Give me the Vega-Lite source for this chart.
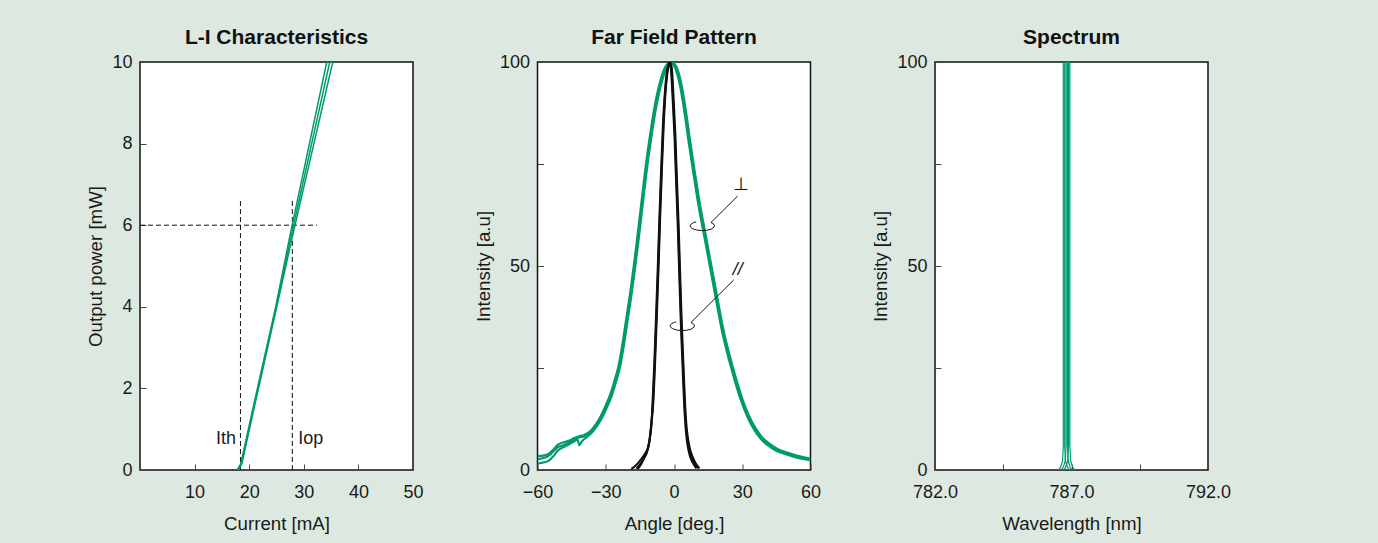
{
  "$schema": "https://vega.github.io/schema/vega-lite/v6.json",
  "background": "#dde9e0",
  "padding": {"left": 86, "top": 26, "right": 150, "bottom": 17},
  "spacing": 124.5,
  "bounds": "flush",
  "config": {
    "font": "Liberation Sans",
    "view": {"fill": "white", "stroke": "#111111", "strokeWidth": 1.5},
    "axis": {"domain": false, "grid": false, "ticks": true, "tickSize": -6, "tickColor": "#444444", "tickWidth": 1, "labelFontSize": 18, "titleFontSize": 18.7, "labelColor": "#1a1a1a", "titleColor": "#1a1a1a", "titleFontWeight": "normal", "labelFlush": false, "labelOverlap": false, "labelPadding": 14, "titlePadding": 6, "labelFont": "Liberation Sans", "titleFont": "Liberation Sans"},
    "axisX": {"labelPadding": 19, "titlePadding": 13},
    "title": {"fontSize": 21, "fontWeight": "bold", "color": "#111111", "offset": 5, "frame": "group", "font": "Liberation Sans"}
  },
  "datasets": {
    "li": [
      {"s": "A", "i": 0, "x": 17.8, "y": 0}, {"s": "A", "i": 1, "x": 18.45, "y": 0.15}, {"s": "A", "i": 2, "x": 20.5, "y": 1.4}, {"s": "A", "i": 3, "x": 24.85, "y": 4.0}, {"s": "A", "i": 4, "x": 27.55, "y": 5.8}, {"s": "A", "i": 5, "x": 34.2, "y": 10.0},
      {"s": "B", "i": 0, "x": 17.9, "y": 0}, {"s": "B", "i": 1, "x": 18.55, "y": 0.15}, {"s": "B", "i": 2, "x": 20.6, "y": 1.4}, {"s": "B", "i": 3, "x": 24.95, "y": 4.0}, {"s": "B", "i": 4, "x": 27.8, "y": 5.8}, {"s": "B", "i": 5, "x": 34.75, "y": 10.0},
      {"s": "C", "i": 0, "x": 18.0, "y": 0}, {"s": "C", "i": 1, "x": 18.65, "y": 0.15}, {"s": "C", "i": 2, "x": 20.7, "y": 1.4}, {"s": "C", "i": 3, "x": 25.05, "y": 4.0}, {"s": "C", "i": 4, "x": 28.05, "y": 5.8}, {"s": "C", "i": 5, "x": 35.3, "y": 10.0}
    ],
    "liV": [{"x": 18.4, "y": 0, "y2": 6.65}, {"x": 27.9, "y": 0, "y2": 6.65}],
    "liH": [{"x": 0, "x2": 32.4, "y": 6}],
    "liTL": [{"x": 17.6, "y": 0.75, "t": "Ith"}],
    "liTR": [{"x": 29.0, "y": 0.75, "t": "Iop"}],
    "ffg": [
      {"s": "G1", "i": 0, "x": -60, "y": 2.6}, {"s": "G1", "i": 1, "x": -57, "y": 3.0}, {"s": "G1", "i": 2, "x": -55, "y": 3.5}, {"s": "G1", "i": 3, "x": -53, "y": 4.6}, {"s": "G1", "i": 4, "x": -51, "y": 5.6}, {"s": "G1", "i": 5, "x": -49, "y": 6.0}, {"s": "G1", "i": 6, "x": -46.5, "y": 6.6}, {"s": "G1", "i": 7, "x": -44, "y": 7.5}, {"s": "G1", "i": 8, "x": -42, "y": 7.9}, {"s": "G1", "i": 9, "x": -39.4, "y": 8.3}, {"s": "G1", "i": 10, "x": -37.5, "y": 8.8},
      {"s": "G1", "i": 11, "x": -35.7, "y": 9.8}, {"s": "G1", "i": 12, "x": -32.1, "y": 12.8}, {"s": "G1", "i": 13, "x": -29.8, "y": 15.5}, {"s": "G1", "i": 14, "x": -27.6, "y": 18.5}, {"s": "G1", "i": 15, "x": -25.8, "y": 21.8}, {"s": "G1", "i": 16, "x": -24, "y": 25.5}, {"s": "G1", "i": 17, "x": -22.5, "y": 30.2}, {"s": "G1", "i": 18, "x": -21, "y": 35.7}, {"s": "G1", "i": 19, "x": -18.8, "y": 43.9}, {"s": "G1", "i": 20, "x": -16.0, "y": 56.0}, {"s": "G1", "i": 21, "x": -14.0, "y": 65.5}, {"s": "G1", "i": 22, "x": -12.2, "y": 74.0}, {"s": "G1", "i": 23, "x": -10.2, "y": 82.0}, {"s": "G1", "i": 24, "x": -8.0, "y": 89.5}, {"s": "G1", "i": 25, "x": -5.8, "y": 95.0}, {"s": "G1", "i": 26, "x": -3.5, "y": 98.7}, {"s": "G1", "i": 27, "x": -1.2, "y": 100},
      {"s": "G1", "i": 28, "x": 0.8, "y": 98.7}, {"s": "G1", "i": 29, "x": 2.8, "y": 94.8}, {"s": "G1", "i": 30, "x": 4.8, "y": 88.3}, {"s": "G1", "i": 31, "x": 6.9, "y": 80.0}, {"s": "G1", "i": 32, "x": 8.8, "y": 73.0}, {"s": "G1", "i": 33, "x": 10.6, "y": 66.6}, {"s": "G1", "i": 34, "x": 14.3, "y": 55.4}, {"s": "G1", "i": 35, "x": 18, "y": 44.3}, {"s": "G1", "i": 36, "x": 21.6, "y": 33.7}, {"s": "G1", "i": 37, "x": 23.5, "y": 29.3}, {"s": "G1", "i": 38, "x": 25.3, "y": 25.5}, {"s": "G1", "i": 39, "x": 27.5, "y": 21.2}, {"s": "G1", "i": 40, "x": 29.7, "y": 17.3}, {"s": "G1", "i": 41, "x": 32.5, "y": 13.3}, {"s": "G1", "i": 42, "x": 35.6, "y": 10.0}, {"s": "G1", "i": 43, "x": 38.5, "y": 7.8}, {"s": "G1", "i": 44, "x": 41.5, "y": 6.3}, {"s": "G1", "i": 45, "x": 45, "y": 5.0}, {"s": "G1", "i": 46, "x": 48.8, "y": 4.2}, {"s": "G1", "i": 47, "x": 54, "y": 3.3}, {"s": "G1", "i": 48, "x": 60, "y": 2.6},
      {"s": "G2", "i": 0, "x": -60, "y": 3.4}, {"s": "G2", "i": 1, "x": -57, "y": 3.6}, {"s": "G2", "i": 2, "x": -55, "y": 4.0}, {"s": "G2", "i": 3, "x": -53, "y": 5.0}, {"s": "G2", "i": 4, "x": -51, "y": 6.2}, {"s": "G2", "i": 5, "x": -48.5, "y": 6.8}, {"s": "G2", "i": 6, "x": -46, "y": 7.2}, {"s": "G2", "i": 7, "x": -44, "y": 7.8}, {"s": "G2", "i": 8, "x": -42, "y": 8.2}, {"s": "G2", "i": 9, "x": -39.5, "y": 8.6}, {"s": "G2", "i": 10, "x": -37.5, "y": 9.2},
      {"s": "G2", "i": 11, "x": -36.0, "y": 10.0}, {"s": "G2", "i": 12, "x": -32.4, "y": 13.0}, {"s": "G2", "i": 13, "x": -30.1, "y": 15.7}, {"s": "G2", "i": 14, "x": -27.9, "y": 18.7}, {"s": "G2", "i": 15, "x": -26.1, "y": 22.0}, {"s": "G2", "i": 16, "x": -24.3, "y": 25.7}, {"s": "G2", "i": 17, "x": -22.8, "y": 30.4}, {"s": "G2", "i": 18, "x": -21.3, "y": 35.9}, {"s": "G2", "i": 19, "x": -19.1, "y": 44.1}, {"s": "G2", "i": 20, "x": -16.3, "y": 56.2}, {"s": "G2", "i": 21, "x": -14.3, "y": 65.7}, {"s": "G2", "i": 22, "x": -12.5, "y": 74.2}, {"s": "G2", "i": 23, "x": -10.5, "y": 82.2}, {"s": "G2", "i": 24, "x": -8.3, "y": 89.7}, {"s": "G2", "i": 25, "x": -6.1, "y": 95.2}, {"s": "G2", "i": 26, "x": -3.8, "y": 98.8}, {"s": "G2", "i": 27, "x": -1.2, "y": 100},
      {"s": "G2", "i": 28, "x": 1.1, "y": 98.8}, {"s": "G2", "i": 29, "x": 3.1, "y": 95.0}, {"s": "G2", "i": 30, "x": 5.1, "y": 88.5}, {"s": "G2", "i": 31, "x": 7.2, "y": 80.2}, {"s": "G2", "i": 32, "x": 9.1, "y": 73.2}, {"s": "G2", "i": 33, "x": 10.9, "y": 66.8}, {"s": "G2", "i": 34, "x": 14.6, "y": 55.6}, {"s": "G2", "i": 35, "x": 18.3, "y": 44.5}, {"s": "G2", "i": 36, "x": 21.9, "y": 33.9}, {"s": "G2", "i": 37, "x": 23.8, "y": 29.5}, {"s": "G2", "i": 38, "x": 25.6, "y": 25.7}, {"s": "G2", "i": 39, "x": 27.8, "y": 21.4}, {"s": "G2", "i": 40, "x": 30.0, "y": 17.5}, {"s": "G2", "i": 41, "x": 32.8, "y": 13.5}, {"s": "G2", "i": 42, "x": 35.9, "y": 10.2}, {"s": "G2", "i": 43, "x": 38.8, "y": 8.0}, {"s": "G2", "i": 44, "x": 41.8, "y": 6.5}, {"s": "G2", "i": 45, "x": 45.3, "y": 5.2}, {"s": "G2", "i": 46, "x": 49.1, "y": 4.4}, {"s": "G2", "i": 47, "x": 54.3, "y": 3.5}, {"s": "G2", "i": 48, "x": 60, "y": 2.8},
      {"s": "G3", "i": 0, "x": -60, "y": 1.6}, {"s": "G3", "i": 1, "x": -57, "y": 1.9}, {"s": "G3", "i": 2, "x": -55, "y": 2.3}, {"s": "G3", "i": 3, "x": -53, "y": 3.4}, {"s": "G3", "i": 4, "x": -51, "y": 4.8}, {"s": "G3", "i": 5, "x": -49, "y": 5.5}, {"s": "G3", "i": 6, "x": -46.5, "y": 6.2}, {"s": "G3", "i": 7, "x": -44, "y": 7.0}, {"s": "G3", "i": 8, "x": -42.5, "y": 7.5}, {"s": "G3", "i": 9, "x": -41.6, "y": 6.1}, {"s": "G3", "i": 10, "x": -40.5, "y": 7.0}, {"s": "G3", "i": 11, "x": -39, "y": 7.8}, {"s": "G3", "i": 12, "x": -37.5, "y": 8.4},
      {"s": "G3", "i": 13, "x": -35.4, "y": 9.6}, {"s": "G3", "i": 14, "x": -31.8, "y": 12.6}, {"s": "G3", "i": 15, "x": -29.5, "y": 15.3}, {"s": "G3", "i": 16, "x": -27.3, "y": 18.3}, {"s": "G3", "i": 17, "x": -25.5, "y": 21.6}, {"s": "G3", "i": 18, "x": -23.7, "y": 25.3}, {"s": "G3", "i": 19, "x": -22.2, "y": 30.0}, {"s": "G3", "i": 20, "x": -20.7, "y": 35.5}, {"s": "G3", "i": 21, "x": -18.5, "y": 43.7}, {"s": "G3", "i": 22, "x": -15.7, "y": 55.8}, {"s": "G3", "i": 23, "x": -13.7, "y": 65.3}, {"s": "G3", "i": 24, "x": -11.9, "y": 73.8}, {"s": "G3", "i": 25, "x": -9.9, "y": 81.8}, {"s": "G3", "i": 26, "x": -7.7, "y": 89.3}, {"s": "G3", "i": 27, "x": -5.5, "y": 94.8}, {"s": "G3", "i": 28, "x": -3.2, "y": 98.5}, {"s": "G3", "i": 29, "x": -1.2, "y": 99.8},
      {"s": "G3", "i": 30, "x": 0.5, "y": 98.5}, {"s": "G3", "i": 31, "x": 2.5, "y": 94.6}, {"s": "G3", "i": 32, "x": 4.5, "y": 88.1}, {"s": "G3", "i": 33, "x": 6.6, "y": 79.8}, {"s": "G3", "i": 34, "x": 8.5, "y": 72.8}, {"s": "G3", "i": 35, "x": 10.3, "y": 66.4}, {"s": "G3", "i": 36, "x": 14.0, "y": 55.2}, {"s": "G3", "i": 37, "x": 17.7, "y": 44.1}, {"s": "G3", "i": 38, "x": 21.3, "y": 33.5}, {"s": "G3", "i": 39, "x": 23.2, "y": 29.1}, {"s": "G3", "i": 40, "x": 25.0, "y": 25.3}, {"s": "G3", "i": 41, "x": 27.2, "y": 21.0}, {"s": "G3", "i": 42, "x": 29.4, "y": 17.1}, {"s": "G3", "i": 43, "x": 32.2, "y": 13.1}, {"s": "G3", "i": 44, "x": 35.3, "y": 9.8}, {"s": "G3", "i": 45, "x": 38.2, "y": 7.6}, {"s": "G3", "i": 46, "x": 41.2, "y": 6.1}, {"s": "G3", "i": 47, "x": 44.7, "y": 4.8}, {"s": "G3", "i": 48, "x": 48.5, "y": 4.0}, {"s": "G3", "i": 49, "x": 53.7, "y": 3.1}, {"s": "G3", "i": 50, "x": 60, "y": 2.4}
    ],
    "ffb": [
      {"s": "B1", "i": 0, "x": -18.8, "y": 0.3}, {"s": "B1", "i": 1, "x": -17, "y": 1.0}, {"s": "B1", "i": 2, "x": -15.1, "y": 2.2}, {"s": "B1", "i": 3, "x": -13, "y": 3.8}, {"s": "B1", "i": 4, "x": -11.5, "y": 5.5}, {"s": "B1", "i": 5, "x": -10.7, "y": 7.9}, {"s": "B1", "i": 6, "x": -10, "y": 11.5}, {"s": "B1", "i": 7, "x": -9.3, "y": 16.1}, {"s": "B1", "i": 8, "x": -8.5, "y": 26}, {"s": "B1", "i": 9, "x": -7.8, "y": 36.5}, {"s": "B1", "i": 10, "x": -7, "y": 49}, {"s": "B1", "i": 11, "x": -6.3, "y": 61}, {"s": "B1", "i": 12, "x": -5.5, "y": 73.5}, {"s": "B1", "i": 13, "x": -4.7, "y": 84.5}, {"s": "B1", "i": 14, "x": -3.8, "y": 93}, {"s": "B1", "i": 15, "x": -2.8, "y": 98.2}, {"s": "B1", "i": 16, "x": -2, "y": 100}, {"s": "B1", "i": 17, "x": -1.2, "y": 98.5}, {"s": "B1", "i": 18, "x": -0.3, "y": 90}, {"s": "B1", "i": 19, "x": 0.4, "y": 82}, {"s": "B1", "i": 20, "x": 1.1, "y": 71}, {"s": "B1", "i": 21, "x": 1.8, "y": 60.6}, {"s": "B1", "i": 22, "x": 2.5, "y": 48}, {"s": "B1", "i": 23, "x": 3.2, "y": 36.1}, {"s": "B1", "i": 24, "x": 4.0, "y": 25}, {"s": "B1", "i": 25, "x": 4.7, "y": 15.7}, {"s": "B1", "i": 26, "x": 5.3, "y": 10.5}, {"s": "B1", "i": 27, "x": 5.9, "y": 7.5}, {"s": "B1", "i": 28, "x": 6.7, "y": 5.0}, {"s": "B1", "i": 29, "x": 7.6, "y": 3.4}, {"s": "B1", "i": 30, "x": 9, "y": 1.8}, {"s": "B1", "i": 31, "x": 10.6, "y": 0.4},
      {"s": "B2", "i": 0, "x": -16.5, "y": 0.3}, {"s": "B2", "i": 1, "x": -15.2, "y": 1.2}, {"s": "B2", "i": 2, "x": -13.6, "y": 2.6}, {"s": "B2", "i": 3, "x": -12.2, "y": 4.0}, {"s": "B2", "i": 4, "x": -11.2, "y": 5.8}, {"s": "B2", "i": 5, "x": -10.5, "y": 8.2}, {"s": "B2", "i": 6, "x": -9.8, "y": 11.8}, {"s": "B2", "i": 7, "x": -9.1, "y": 16.4}, {"s": "B2", "i": 8, "x": -8.3, "y": 26.3}, {"s": "B2", "i": 9, "x": -7.6, "y": 36.8}, {"s": "B2", "i": 10, "x": -6.8, "y": 49.3}, {"s": "B2", "i": 11, "x": -6.1, "y": 61.3}, {"s": "B2", "i": 12, "x": -5.3, "y": 73.8}, {"s": "B2", "i": 13, "x": -4.5, "y": 84.8}, {"s": "B2", "i": 14, "x": -3.6, "y": 93.3}, {"s": "B2", "i": 15, "x": -2.6, "y": 98.4}, {"s": "B2", "i": 16, "x": -1.8, "y": 100}, {"s": "B2", "i": 17, "x": -1.0, "y": 98.7}, {"s": "B2", "i": 18, "x": -0.1, "y": 90.3}, {"s": "B2", "i": 19, "x": 0.6, "y": 82.3}, {"s": "B2", "i": 20, "x": 1.3, "y": 71.3}, {"s": "B2", "i": 21, "x": 2.0, "y": 60.9}, {"s": "B2", "i": 22, "x": 2.7, "y": 48.3}, {"s": "B2", "i": 23, "x": 3.4, "y": 36.4}, {"s": "B2", "i": 24, "x": 4.2, "y": 25.3}, {"s": "B2", "i": 25, "x": 4.9, "y": 16.0}, {"s": "B2", "i": 26, "x": 5.5, "y": 10.8}, {"s": "B2", "i": 27, "x": 6.2, "y": 7.6}, {"s": "B2", "i": 28, "x": 7.1, "y": 5.0}, {"s": "B2", "i": 29, "x": 8.2, "y": 3.2}, {"s": "B2", "i": 30, "x": 9.6, "y": 1.6}, {"s": "B2", "i": 31, "x": 11.2, "y": 0.4},
      {"s": "B3", "i": 0, "x": -15.9, "y": 0.3}, {"s": "B3", "i": 1, "x": -14.6, "y": 1.3}, {"s": "B3", "i": 2, "x": -13.2, "y": 2.8}, {"s": "B3", "i": 3, "x": -12.0, "y": 4.2}, {"s": "B3", "i": 4, "x": -11.1, "y": 6.0}, {"s": "B3", "i": 5, "x": -10.4, "y": 8.5}, {"s": "B3", "i": 6, "x": -9.9, "y": 11.3}, {"s": "B3", "i": 7, "x": -9.5, "y": 16.0}, {"s": "B3", "i": 8, "x": -8.7, "y": 25.8}, {"s": "B3", "i": 9, "x": -8.0, "y": 36.3}, {"s": "B3", "i": 10, "x": -7.2, "y": 48.8}, {"s": "B3", "i": 11, "x": -6.5, "y": 60.8}, {"s": "B3", "i": 12, "x": -5.7, "y": 73.3}, {"s": "B3", "i": 13, "x": -4.9, "y": 84.3}, {"s": "B3", "i": 14, "x": -4.0, "y": 92.8}, {"s": "B3", "i": 15, "x": -3.0, "y": 98.0}, {"s": "B3", "i": 16, "x": -2.2, "y": 99.8}, {"s": "B3", "i": 17, "x": -1.4, "y": 98.3}, {"s": "B3", "i": 18, "x": -0.5, "y": 89.8}, {"s": "B3", "i": 19, "x": 0.2, "y": 81.8}, {"s": "B3", "i": 20, "x": 0.9, "y": 70.8}, {"s": "B3", "i": 21, "x": 1.6, "y": 60.4}, {"s": "B3", "i": 22, "x": 2.3, "y": 47.8}, {"s": "B3", "i": 23, "x": 3.0, "y": 35.9}, {"s": "B3", "i": 24, "x": 3.8, "y": 24.8}, {"s": "B3", "i": 25, "x": 4.5, "y": 15.5}, {"s": "B3", "i": 26, "x": 5.1, "y": 10.3}, {"s": "B3", "i": 27, "x": 5.6, "y": 7.4}, {"s": "B3", "i": 28, "x": 6.3, "y": 5.0}, {"s": "B3", "i": 29, "x": 7.0, "y": 3.4}, {"s": "B3", "i": 30, "x": 8.2, "y": 1.8}, {"s": "B3", "i": 31, "x": 9.8, "y": 0.4}
    ],
    "hook": [
      {"s": "perp", "i": 0, "x": 28.0, "y": 67.16}, {"s": "perp", "i": 1, "x": 16.25, "y": 60.66}, {"s": "perp", "i": 2, "x": 17.22, "y": 60.42}, {"s": "perp", "i": 3, "x": 17.79, "y": 60.0}, {"s": "perp", "i": 4, "x": 17.57, "y": 59.51}, {"s": "perp", "i": 5, "x": 16.34, "y": 59.04}, {"s": "perp", "i": 6, "x": 14.36, "y": 58.75}, {"s": "perp", "i": 7, "x": 12.16, "y": 58.68}, {"s": "perp", "i": 8, "x": 9.96, "y": 58.82}, {"s": "perp", "i": 9, "x": 8.2, "y": 59.14}, {"s": "perp", "i": 10, "x": 7.23, "y": 59.56}, {"s": "perp", "i": 11, "x": 7.14, "y": 59.98}, {"s": "perp", "i": 12, "x": 7.67, "y": 60.34}, {"s": "perp", "i": 13, "x": 8.64, "y": 60.64}, {"s": "perp", "i": 14, "x": 9.74, "y": 60.83},
      {"s": "par", "i": 0, "x": 26.24, "y": 46.57}, {"s": "par", "i": 1, "x": 7.45, "y": 36.15}, {"s": "par", "i": 2, "x": 8.42, "y": 35.91}, {"s": "par", "i": 3, "x": 8.99, "y": 35.49}, {"s": "par", "i": 4, "x": 8.77, "y": 35.0}, {"s": "par", "i": 5, "x": 7.54, "y": 34.53}, {"s": "par", "i": 6, "x": 5.56, "y": 34.24}, {"s": "par", "i": 7, "x": 3.36, "y": 34.17}, {"s": "par", "i": 8, "x": 1.16, "y": 34.31}, {"s": "par", "i": 9, "x": -0.6, "y": 34.63}, {"s": "par", "i": 10, "x": -1.57, "y": 35.05}, {"s": "par", "i": 11, "x": -1.66, "y": 35.47}, {"s": "par", "i": 12, "x": -1.13, "y": 35.83}, {"s": "par", "i": 13, "x": -0.16, "y": 36.13}, {"s": "par", "i": 14, "x": 0.94, "y": 36.32}
    ],
    "perpText": [{"x": 29.5, "y": 69.8, "t": "⊥"}],
    "parText": [{"x": 28.0, "y": 48.9, "t": "//"}],
    "spec": [
      {"s": "P1", "i": 0, "x": 786.52, "y": 0}, {"s": "P1", "i": 1, "x": 786.6, "y": 0.7}, {"s": "P1", "i": 2, "x": 786.67, "y": 2.2}, {"s": "P1", "i": 3, "x": 786.7, "y": 6}, {"s": "P1", "i": 4, "x": 786.7, "y": 105}, {"s": "P1", "i": 5, "x": 786.75, "y": 105}, {"s": "P1", "i": 6, "x": 786.75, "y": 6}, {"s": "P1", "i": 7, "x": 786.78, "y": 2.2}, {"s": "P1", "i": 8, "x": 786.85, "y": 0.7}, {"s": "P1", "i": 9, "x": 786.93, "y": 0},
      {"s": "P2", "i": 0, "x": 786.62, "y": 0}, {"s": "P2", "i": 1, "x": 786.7, "y": 0.7}, {"s": "P2", "i": 2, "x": 786.77, "y": 2.2}, {"s": "P2", "i": 3, "x": 786.8, "y": 6}, {"s": "P2", "i": 4, "x": 786.8, "y": 105}, {"s": "P2", "i": 5, "x": 786.85, "y": 105}, {"s": "P2", "i": 6, "x": 786.85, "y": 6}, {"s": "P2", "i": 7, "x": 786.88, "y": 2.2}, {"s": "P2", "i": 8, "x": 786.95, "y": 0.7}, {"s": "P2", "i": 9, "x": 787.03, "y": 0},
      {"s": "P3", "i": 0, "x": 786.71, "y": 0}, {"s": "P3", "i": 1, "x": 786.79, "y": 0.7}, {"s": "P3", "i": 2, "x": 786.86, "y": 2.2}, {"s": "P3", "i": 3, "x": 786.89, "y": 6}, {"s": "P3", "i": 4, "x": 786.89, "y": 105}, {"s": "P3", "i": 5, "x": 786.94, "y": 105}, {"s": "P3", "i": 6, "x": 786.94, "y": 6}, {"s": "P3", "i": 7, "x": 786.97, "y": 2.2}, {"s": "P3", "i": 8, "x": 787.04, "y": 0.7}, {"s": "P3", "i": 9, "x": 787.12, "y": 0}
    ]
  },
  "hconcat": [
    {
      "width": 273, "height": 408,
      "title": "L-I Characteristics",
      "encoding": {
        "x": {"field": "x", "type": "quantitative", "scale": {"domain": [0, 50], "nice": false, "zero": false}, "axis": {"title": "Current [mA]", "values": [0, 10, 20, 30, 40, 50], "labelExpr": "datum.value == 0 ? '' : datum.label"}},
        "y": {"field": "y", "type": "quantitative", "scale": {"domain": [0, 10], "nice": false}, "axis": {"title": "Output power [mW]", "values": [0, 2, 4, 6, 8, 10]}}
      },
      "layer": [
        {"data": {"name": "liV"}, "mark": {"type": "rule", "color": "#111111", "strokeWidth": 1, "strokeDash": [5, 3]}, "encoding": {"y2": {"field": "y2"}}},
        {"data": {"name": "liH"}, "mark": {"type": "rule", "color": "#111111", "strokeWidth": 1, "strokeDash": [5, 3]}, "encoding": {"x2": {"field": "x2"}}},
        {"data": {"name": "li"}, "mark": {"type": "line", "color": "#009a6f", "strokeWidth": 1.5, "clip": true}, "encoding": {"detail": {"field": "s"}, "order": {"field": "i"}}},
        {"data": {"name": "liTL"}, "mark": {"type": "text", "align": "right", "baseline": "middle", "fontSize": 18, "color": "#1a1a1a"}, "encoding": {"text": {"field": "t"}}},
        {"data": {"name": "liTR"}, "mark": {"type": "text", "align": "left", "baseline": "middle", "fontSize": 18, "color": "#1a1a1a"}, "encoding": {"text": {"field": "t"}}}
      ]
    },
    {
      "width": 273, "height": 408,
      "title": "Far Field Pattern",
      "encoding": {
        "x": {"field": "x", "type": "quantitative", "scale": {"domain": [-60, 60], "nice": false, "zero": false}, "axis": {"title": "Angle [deg.]", "values": [-60, -30, 0, 30, 60]}},
        "y": {"field": "y", "type": "quantitative", "scale": {"domain": [0, 100], "nice": false}, "axis": {"title": "Intensity [a.u]", "values": [0, 25, 50, 75, 100], "labelExpr": "datum.value % 50 == 0 ? datum.label : ''"}}
      },
      "layer": [
        {"data": {"name": "ffg"}, "mark": {"type": "line", "color": "#009a6f", "strokeWidth": 2.2, "clip": true, "interpolate": "monotone"}, "encoding": {"detail": {"field": "s"}, "order": {"field": "i"}}},
        {"data": {"name": "ffb"}, "mark": {"type": "line", "color": "#111111", "strokeWidth": 2, "clip": true, "interpolate": "monotone"}, "encoding": {"detail": {"field": "s"}, "order": {"field": "i"}}},
        {"data": {"name": "hook"}, "mark": {"type": "line", "color": "#111111", "strokeWidth": 1}, "encoding": {"detail": {"field": "s"}, "order": {"field": "i"}}},
        {"data": {"name": "perpText"}, "mark": {"type": "text", "align": "center", "baseline": "middle", "fontSize": 18, "font": "DejaVu Sans", "color": "#111111"}, "encoding": {"text": {"field": "t"}}},
        {"data": {"name": "parText"}, "mark": {"type": "text", "align": "center", "baseline": "middle", "fontSize": 18, "fontStyle": "italic", "color": "#111111"}, "encoding": {"text": {"field": "t"}}}
      ]
    },
    {
      "width": 273, "height": 408,
      "title": "Spectrum",
      "encoding": {
        "x": {"field": "x", "type": "quantitative", "scale": {"domain": [782, 792], "nice": false, "zero": false}, "axis": {"title": "Wavelength [nm]", "values": [782, 784.5, 787, 789.5, 792], "format": ".1f", "labelExpr": "datum.value % 5 == 2 ? datum.label : ''"}},
        "y": {"field": "y", "type": "quantitative", "scale": {"domain": [0, 100], "nice": false}, "axis": {"title": "Intensity [a.u]", "values": [0, 25, 50, 75, 100], "labelExpr": "datum.value % 50 == 0 ? datum.label : ''"}}
      },
      "layer": [
        {"data": {"name": "spec"}, "mark": {"type": "line", "color": "#009a6f", "strokeWidth": 1.2, "clip": true}, "encoding": {"detail": {"field": "s"}, "order": {"field": "i"}}}
      ]
    }
  ]
}
